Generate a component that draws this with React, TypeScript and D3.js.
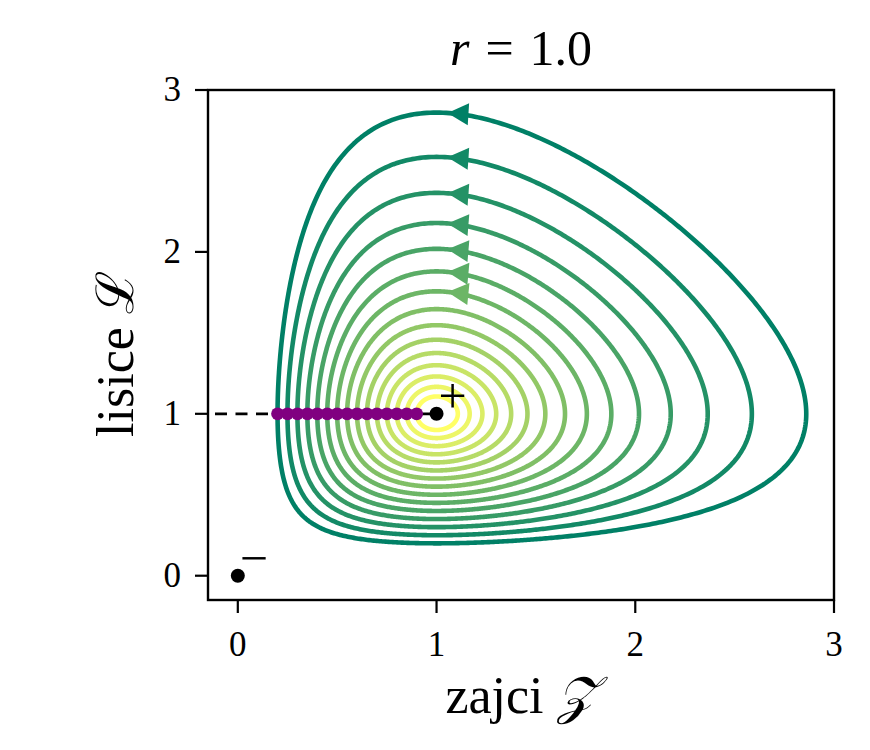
import React from 'react';
import * as d3 from 'd3';

// ---- data ----
const rParam = 1.0;
const startXs = [0.2, 0.25, 0.3, 0.35, 0.4, 0.45, 0.5, 0.55, 0.6, 0.65, 0.7, 0.75, 0.8, 0.85, 0.9];
const startY = 1.0;
const arrowedCount = 7;
const arrowTipX = 1.055;
const xTicks = [0, 1, 2, 3];
const yTicks = [0, 1, 2, 3];
const fixedXs = [0, 1];
const fixedYs = [0, 1];
const fixedLabels = ['\u2212', '+'];
const domain = [-0.15, 3];

const W = 870, H = 750;
const L = 208, R = 834, T = 90, B = 600;

const Hf = (x: number, y: number) => rParam * (x - Math.log(x)) + (y - Math.log(y));

function levelCurve(h0: number, n = 720): [number, number][] {
  const pts: [number, number][] = [];
  for (let i = 0; i <= n; i++) {
    const th = (i / n) * 2 * Math.PI;
    const c = Math.cos(th), s = Math.sin(th);
    let hi = 10;
    if (c < 0) hi = Math.min(hi, -1 / c * 0.999999);
    if (s < 0) hi = Math.min(hi, -1 / s * 0.999999);
    let lo = 0;
    for (let k = 0; k < 60; k++) {
      const m = (lo + hi) / 2;
      if (Hf(1 + m * c, 1 + m * s) > h0) hi = m; else lo = m;
    }
    const rho = (lo + hi) / 2;
    pts.push([1 + rho * c, 1 + rho * s]);
  }
  return pts;
}

function upperY(h0: number, x: number) {
  const target = h0 - rParam * (x - Math.log(x));
  let lo = 1, hi = 10;
  for (let k = 0; k < 60; k++) {
    const m = (lo + hi) / 2;
    if (m - Math.log(m) > target) hi = m; else lo = m;
  }
  return (lo + hi) / 2;
}

const summer = (t: number) => d3.rgb(255 * t, 255 * (0.5 + 0.5 * t), 102).toString();

export default function App() {
  const xs = d3.scaleLinear().domain(domain).range([L, R]);
  const ys = d3.scaleLinear().domain(domain).range([B, T]);
  const line = d3.line<[number, number]>().x(d => xs(d[0])).y(d => ys(d[1]));
  const n = startXs.length;
  const curves = startXs.map((x0, i) => {
    const h0 = Hf(x0, startY);
    return { h0, pts: levelCurve(h0), color: summer(i / (n - 1)) };
  });
  const arrows = curves.slice(0, arrowedCount).map(c => {
    const x = arrowTipX;
    const y = upperY(c.h0, x);
    const vx = x * (1 - y), vy = rParam * y * (x - 1);
    let px = vx * (xs(1) - xs(0)), py = -vy * (ys(0) - ys(1));
    const len = Math.hypot(px, py);
    px /= len; py /= len;
    const tx = xs(x), ty = ys(y);
    const AL = 21, AW = 11;
    const bx = tx - px * AL, by = ty - py * AL;
    const pts = [[tx, ty], [bx - py * AW, by + px * AW], [bx + py * AW, by - px * AW]];
    return { pts: pts.map(p => p.join(',')).join(' '), color: c.color };
  });
  const serif = "'Liberation Serif', 'DejaVu Serif', serif";
  return (
    <svg width={W} height={H} style={{ position: 'absolute', left: 0, top: 0, background: '#fff' }}>
      <defs>
        <clipPath id="clip"><rect x={L} y={T} width={R - L} height={B - T} /></clipPath>
      </defs>
      <g clipPath="url(#clip)">
        {curves.map((c, i) => (
          <path key={i} d={line(c.pts) || ''} fill="none" stroke={c.color} strokeWidth={4.6} strokeLinejoin="round" />
        ))}
        {arrows.map((a, i) => <polygon key={i} points={a.pts} fill={a.color} />)}
        <line x1={xs(domain[0])} x2={xs(1)} y1={ys(startY)} y2={ys(startY)} stroke="#000" strokeWidth={2.8}
          strokeDasharray="12,8.5" strokeDashoffset={13.5} />
        {startXs.map((x0, i) => <circle key={i} cx={xs(x0)} cy={ys(startY)} r={6.4} fill="#800080" />)}
        {fixedXs.map((x, i) => <circle key={i} cx={xs(x)} cy={ys(fixedYs[i])} r={7} fill="#000" />)}
      </g>
      {fixedXs.map((x, i) => (
        <text key={i} x={xs(x) + 16} y={ys(fixedYs[i]) - 18} textAnchor="middle" dominantBaseline="central"
          fontFamily={serif} fontSize={50}>{fixedLabels[i]}</text>
      ))}
      <rect x={L} y={T} width={R - L} height={B - T} fill="none" stroke="#000" strokeWidth={2.4} />
      {xTicks.map(t => (
        <g key={t}>
          <line x1={xs(t)} x2={xs(t)} y1={B} y2={B + 13} stroke="#000" strokeWidth={2.2} />
          <text x={xs(t)} y={656} textAnchor="middle" fontFamily={serif} fontSize={35}>{t}</text>
        </g>
      ))}
      {yTicks.map(t => (
        <g key={t}>
          <line x1={L} x2={L - 13} y1={ys(t)} y2={ys(t)} stroke="#000" strokeWidth={2.2} />
          <text x={181} y={ys(t) + 11} textAnchor="end" fontFamily={serif} fontSize={35}>{t}</text>
        </g>
      ))}
      <text x={(L + R) / 2} y={65} textAnchor="middle" fontFamily={serif} fontSize={50}>
        <tspan fontStyle="italic">r</tspan><tspan dx={16}>=</tspan><tspan dx={16}>1.0</tspan>
      </text>
      <text x={(L + R) / 2} y={713} textAnchor="middle" fontFamily={serif} fontSize={52}>
        zajci <tspan fontStyle="italic">𝒵</tspan>
      </text>
      <text transform={`translate(133, 354) rotate(-90)`} textAnchor="middle" fontFamily={serif} fontSize={52}>
        lisice <tspan>ℒ</tspan>
      </text>
    </svg>
  );
}
